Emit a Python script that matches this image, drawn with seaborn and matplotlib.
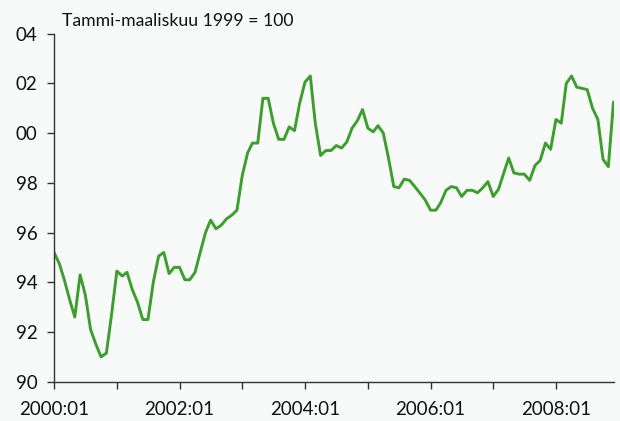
import numpy as np
import pandas as pd
import matplotlib
matplotlib.use("Agg")
import matplotlib.pyplot as plt
import matplotlib.dates as mdates
import seaborn as sns

# Monthly index values, 2000:01 - 2008:12 (Tammi-maaliskuu 1999 = 100)
start_month = "2000-01-01"
values = [
    95.2, 94.75, 94.1, 93.3, 92.6, 94.3, 93.5, 92.1, 91.5, 91.0, 91.15, 92.7,   # 2000
    94.45, 94.25, 94.4, 93.7, 93.2, 92.5, 92.5, 94.0, 95.05, 95.2, 94.35, 94.6,  # 2001
    94.6, 94.1, 94.1, 94.4, 95.2, 96.0, 96.5, 96.15, 96.3, 96.55, 96.7, 96.9,   # 2002
    98.3, 99.2, 99.6, 99.6, 101.4, 101.4, 100.4, 99.75, 99.75, 100.25, 100.1, 101.2,  # 2003
    102.05, 102.3, 100.4, 99.1, 99.3, 99.3, 99.5, 99.4, 99.65, 100.2, 100.5, 100.95,  # 2004
    100.2, 100.05, 100.3, 100.0, 99.0, 97.85, 97.8, 98.15, 98.1, 97.85, 97.58, 97.31,  # 2005
    96.9, 96.9, 97.2, 97.7, 97.85, 97.8, 97.45, 97.7, 97.7, 97.6, 97.8, 98.05,   # 2006
    97.45, 97.75, 98.35, 99.0, 98.4, 98.35, 98.35, 98.1, 98.7, 98.9, 99.6, 99.35,  # 2007
    100.55, 100.4, 102.0, 102.3, 101.85, 101.8, 101.75, 101.0, 100.55, 98.95, 98.65, 101.25,  # 2008
]
y_ticks = [90, 92, 94, 96, 98, 100, 102, 104]
y_tick_labels = ["90", "92", "94", "96", "98", "00", "02", "04"]
x_tick_years = list(range(2000, 2009))
x_label_years = [2000, 2002, 2004, 2006, 2008]
title_text = "Tammi-maaliskuu 1999 = 100"

dates = pd.date_range(start_month, periods=len(values), freq="MS")
df = pd.DataFrame({"date": dates, "value": values})

sns.set_style("ticks")
bg = "#f8fafa"
plt.rcParams["font.family"] = ["Lato", "DejaVu Sans"]

fig = plt.figure(figsize=(6.2, 4.21), dpi=100, facecolor=bg)
ax = fig.add_axes([54 / 620, 1 - 381.7 / 421, (613.5 - 54) / 620, (381.7 - 33.7) / 421])
ax.set_facecolor(bg)

sns.lineplot(data=df, x="date", y="value", ax=ax, color="#3c9e2c", linewidth=2.1)

ax.set_xlim(dates[0], dates[-1])
ax.set_ylim(90, 104)
ax.set_yticks(y_ticks)
ax.set_yticklabels(y_tick_labels)

xt = [pd.Timestamp(f"{y}-01-01") for y in x_tick_years]
ax.set_xticks(xt)
ax.set_xticklabels([f"{y}:01" if y in x_label_years else "" for y in x_tick_years])

for s in ["top", "right"]:
    ax.spines[s].set_visible(False)
for s in ["left", "bottom"]:
    ax.spines[s].set_color("#333333")
    ax.spines[s].set_linewidth(1.0)

ax.tick_params(axis="both", direction="out", length=5, width=1.0, color="#333333",
               labelsize=13.5, labelcolor="#111111")
ax.tick_params(axis="x", pad=9)
ax.tick_params(axis="y", pad=7)
ax.set_xlabel("")
ax.set_ylabel("")

fig.text(62 / 620, 1 - 21 / 421, title_text, ha="left", va="center",
         fontsize=12.7, color="#111111")

fig.savefig("out.png", dpi=100, facecolor=bg)
